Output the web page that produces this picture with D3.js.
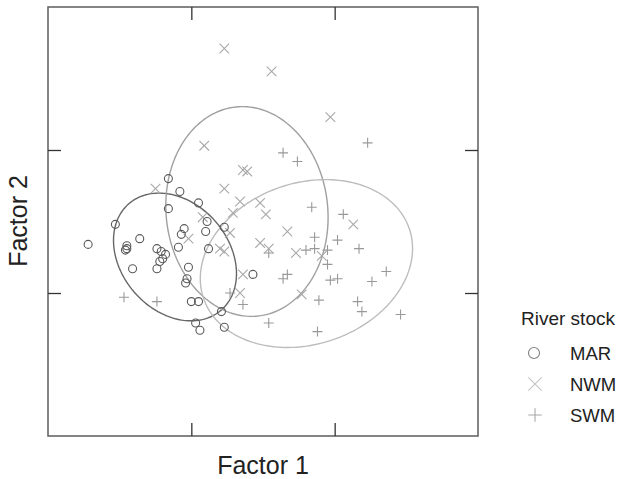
<!DOCTYPE html>
<html>
<head>
<meta charset="utf-8">
<script src="https://cdn.jsdelivr.net/npm/d3@7"></script>
<style>
  body { margin: 0; background: #fff; }
  text { font-family: "Liberation Sans", Arial, sans-serif; fill: #222; }
</style>
</head>
<body>
<div id="chart"></div>
<script>
// Factor scores per river stock
const stocks = ["MAR", "NWM", "SWM"];

const marPoints = [
  [-0.66, 0.30], [-0.58, 0.21], [-0.45, 0.13], [-0.66, 0.09], [-1.03, -0.02],
  [-0.39, 0.00], [-0.40, -0.07], [-0.55, -0.05], [-0.57, -0.09], [-0.27, -0.04],
  [-0.86, -0.12], [-1.22, -0.16], [-0.95, -0.17], [-0.95, -0.19], [-0.96, -0.20],
  [-0.74, -0.19], [-0.59, -0.18], [-0.38, -0.19], [-0.71, -0.21], [-0.68, -0.23],
  [-0.70, -0.26], [-0.72, -0.28], [-0.74, -0.33], [-0.91, -0.33], [-0.52, -0.32],
  [-0.53, -0.40], [-0.54, -0.43], [-0.07, -0.37], [-0.50, -0.56], [-0.45, -0.56],
  [-0.29, -0.63], [-0.47, -0.71], [-0.44, -0.76], [-0.27, -0.74]
];

const nwmPoints = [
  [-0.27, 1.21], [0.06, 1.05], [0.47, 0.73], [-0.41, 0.53], [-0.14, 0.36],
  [-0.11, 0.35], [-0.75, 0.23], [-0.27, 0.23], [-0.16, 0.14], [-0.02, 0.13],
  [0.02, 0.05], [-0.21, 0.06], [-0.42, 0.03], [-0.23, -0.08], [-0.52, -0.12],
  [-0.30, -0.19], [-0.27, -0.21], [-0.02, -0.15], [0.04, -0.19], [0.17, -0.07],
  [0.23, -0.22], [0.41, -0.24], [0.63, -0.02], [-0.14, -0.37], [-0.16, -0.50],
  [0.27, -0.51]
];

const swmPoints = [
  [0.73, 0.55], [0.14, 0.48], [0.24, 0.42], [0.34, 0.10], [0.56, 0.05],
  [0.36, -0.11], [0.52, -0.13], [0.67, -0.19], [0.30, -0.20], [0.36, -0.19],
  [0.45, -0.20], [0.04, -0.22], [0.45, -0.30], [0.17, -0.37], [0.14, -0.40],
  [0.47, -0.41], [0.52, -0.40], [0.76, -0.42], [0.86, -0.35], [-0.14, -0.58],
  [0.39, -0.55], [0.66, -0.56], [0.69, -0.63], [0.96, -0.65], [0.04, -0.71],
  [0.38, -0.77], [-0.97, -0.53], [-0.74, -0.56], [-0.23, -0.50]
];

// confidence ellipses: centre, semi-axes, rotation (degrees)
const ellipseCx = [-0.614, -0.112, 0.303];
const ellipseCy = [-0.248, 0.070, -0.294];
const ellipseA = [0.492, 0.564, 0.758];
const ellipseB = [0.376, 0.735, 0.564];
const ellipseAngle = [-49.4, 6, 18.7];

const xTicks = [-0.5, 0.5];
const yTicks = [-0.5, 0.5];

function factor_plot(ax) {
  const width = 619;
  const height = 479;

  const svg = d3.select(ax)
    .append("svg")
    .attr("width", width)
    .attr("height", height);

  const x = d3.scaleLinear().domain([-1.5, 1.5]).range([48, 478]);
  const y = d3.scaleLinear().domain([-1.5, 1.5]).range([436, 7]);

  const markerColor = { MAR: "#5a5a5a", NWM: "#a8a8a8", SWM: "#999" };
  const ellipseColor = { MAR: "#666", NWM: "#a0a0a0", SWM: "#bdbdbd" };
  const legendColor = { MAR: "#808080", NWM: "#c4c4c4", SWM: "#a8a8a8" };

  // Ellipses
  const line = d3.line()
    .x(d => x(d[0]))
    .y(d => y(d[1]))
    .curve(d3.curveLinearClosed);

  stocks.forEach((s, i) => {
    const phi = ellipseAngle[i] * Math.PI / 180;
    const pts = d3.range(0, 2 * Math.PI, Math.PI / 90).map(t => {
      const u = ellipseA[i] * Math.cos(t);
      const v = ellipseB[i] * Math.sin(t);
      return [ellipseCx[i] + u * Math.cos(phi) - v * Math.sin(phi),
              ellipseCy[i] + u * Math.sin(phi) + v * Math.cos(phi)];
    });
    svg.append("path")
      .attr("d", line(pts))
      .attr("fill", "none")
      .attr("stroke", ellipseColor[s])
      .attr("stroke-width", 1.4);
  });

  // Point markers
  const timesPath = (cx, cy, r) =>
    `M${cx - r},${cy - r}L${cx + r},${cy + r}M${cx - r},${cy + r}L${cx + r},${cy - r}`;
  const plusPath = (cx, cy, r) =>
    `M${cx - r},${cy}L${cx + r},${cy}M${cx},${cy - r}L${cx},${cy + r}`;

  svg.append("g").selectAll("path")
    .data(swmPoints)
    .enter()
    .append("path")
    .attr("d", d => plusPath(x(d[0]), y(d[1]), 5))
    .attr("stroke", markerColor.SWM)
    .attr("stroke-width", 1.1)
    .attr("fill", "none");

  svg.append("g").selectAll("path")
    .data(nwmPoints)
    .enter()
    .append("path")
    .attr("d", d => timesPath(x(d[0]), y(d[1]), 4.8))
    .attr("stroke", markerColor.NWM)
    .attr("stroke-width", 1.1)
    .attr("fill", "none");

  svg.append("g").selectAll("circle")
    .data(marPoints)
    .enter()
    .append("circle")
    .attr("cx", d => x(d[0]))
    .attr("cy", d => y(d[1]))
    .attr("r", 4)
    .attr("fill", "none")
    .attr("stroke", markerColor.MAR)
    .attr("stroke-width", 1.1);

  // Box + inward ticks on all sides
  svg.append("rect")
    .attr("x", x.range()[0])
    .attr("y", y.range()[1])
    .attr("width", x.range()[1] - x.range()[0])
    .attr("height", y.range()[0] - y.range()[1])
    .attr("fill", "none")
    .attr("stroke", "#666")
    .attr("stroke-width", 1.6);

  const axes = [
    [d3.axisBottom(x).tickValues(xTicks), `translate(0,${y.range()[0]})`],
    [d3.axisTop(x).tickValues(xTicks), `translate(0,${y.range()[1]})`],
    [d3.axisLeft(y).tickValues(yTicks), `translate(${x.range()[0]},0)`],
    [d3.axisRight(y).tickValues(yTicks), `translate(${x.range()[1]},0)`]
  ];
  axes.forEach(([axis, tr]) => {
    const g = svg.append("g")
      .attr("transform", tr)
      .call(axis.tickSize(-13).tickFormat(""));
    g.select(".domain").remove();
    g.selectAll("line").attr("stroke", "#333").attr("stroke-width", 1.3);
  });

  // Axis titles
  svg.append("text")
    .attr("x", 263)
    .attr("y", 474)
    .attr("text-anchor", "middle")
    .attr("font-size", "25px")
    .text("Factor 1");

  svg.append("text")
    .attr("transform", "translate(27,221) rotate(-90)")
    .attr("text-anchor", "middle")
    .attr("font-size", "25px")
    .text("Factor 2");

  // Legend
  const legend = svg.append("g")
    .attr("transform", "translate(521,325)");

  legend.append("text")
    .attr("font-size", "19px")
    .text("River stock");

  const items = legend.selectAll(".legend-item")
    .data(stocks)
    .enter()
    .append("g")
    .attr("class", "legend-item")
    .attr("transform", (d, i) => `translate(0, ${28 + i * 31})`);

  items.each(function (d) {
    const g = d3.select(this);
    if (d === "MAR") {
      g.append("circle").attr("cx", 13).attr("cy", 0).attr("r", 5.5)
        .attr("fill", "none").attr("stroke", legendColor[d]).attr("stroke-width", 1.1);
    } else {
      g.append("path")
        .attr("d", d === "NWM" ? timesPath(14, 0, 6.7) : plusPath(14, 0, 6.7))
        .attr("fill", "none").attr("stroke", legendColor[d]).attr("stroke-width", 1.1);
    }
  });

  items.append("text")
    .text(d => d)
    .attr("x", 49)
    .attr("y", 7)
    .attr("font-size", "18.5px");
}

factor_plot("#chart");
</script>
</body>
</html>
